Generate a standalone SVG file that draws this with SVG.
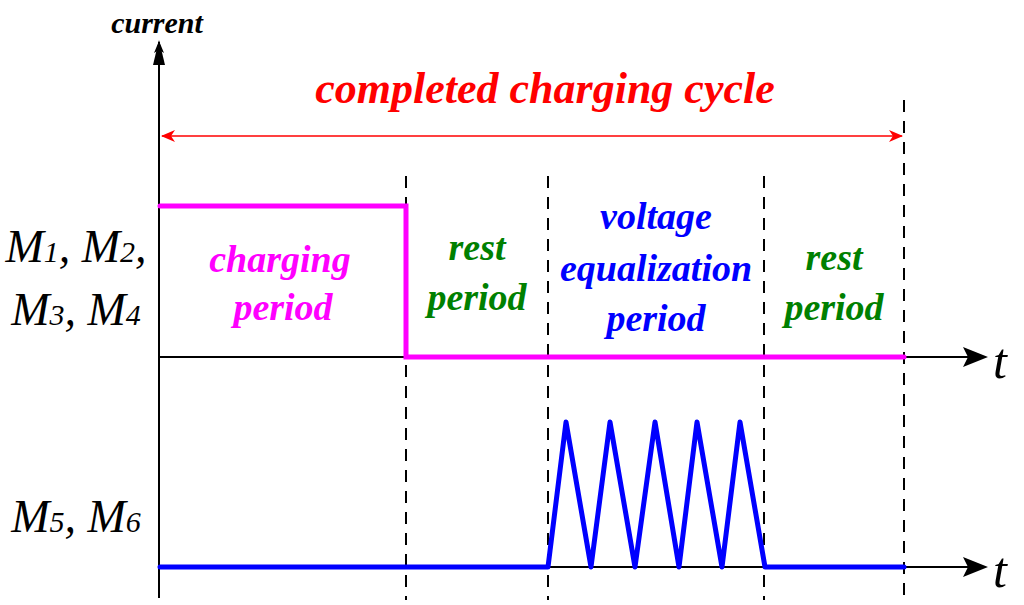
<svg xmlns="http://www.w3.org/2000/svg" width="1024" height="605" viewBox="0 0 1024 605">
<style>
text{font-family:"Liberation Serif",serif;font-style:italic}
.b{font-weight:bold}
.d{stroke:#000;stroke-width:2;stroke-dasharray:12,9;fill:none}
.ax{stroke:#000;stroke-width:2;fill:none}
</style>
<defs>
<marker id="ah" markerWidth="12" markerHeight="10" refX="11" refY="5" orient="auto" markerUnits="userSpaceOnUse" viewBox="0 0 12 10"><path d="M0,0L12,5L0,10L3,5Z" fill="#000"/></marker>
<marker id="ar" markerWidth="14" markerHeight="12" refX="13" refY="6" orient="auto-start-reverse" markerUnits="userSpaceOnUse" viewBox="0 0 14 12"><path d="M0,0L14,6L0,12L4,6Z" fill="#f00"/></marker>
</defs>
<rect width="1024" height="605" fill="#fff"/>
<g id="connectors">
<path class="ax" d="M159,598V42" marker-end="url(#ah)" style="stroke-width:2"/>
<path d="M153,65L159,40L165,65Z" fill="#000"/>
<path class="ax" d="M159,357H985"/>
<path d="M963,347L988,357L963,367L968,357Z"/>
<path class="ax" d="M159,567H985"/>
<path d="M963,557L988,567L963,577L968,567Z"/>
<path class="d" d="M406,176V600M548,176V600M764,176V600M904,100V600"/>
<path d="M162,136H902" stroke="#f00" stroke-width="1.5" marker-start="url(#ar)" marker-end="url(#ar)"/>
<path d="M160,206H406V357H904" stroke="#f0f" stroke-width="5" fill="none" stroke-linecap="round"/>
<path d="M160,567H548L566,422L591,567L610,422L635,567L655,422L679,567L697,422L722,567L740,422L765,567H904" stroke="#00f" stroke-width="5" fill="none" stroke-linejoin="round" stroke-linecap="round"/>
</g>
<g id="labels">
<text x="157" y="33" class="b" font-size="30" text-anchor="middle">current</text>
<text x="545" y="103" class="b" font-size="44" fill="#f00" text-anchor="middle">completed charging cycle</text>
<text x="76" y="262" font-size="46" text-anchor="middle">M<tspan font-size="30">1</tspan>, M<tspan font-size="30">2</tspan>,</text>
<text x="76" y="325" font-size="46" text-anchor="middle">M<tspan font-size="30">3</tspan>, M<tspan font-size="30">4</tspan></text>
<text x="76" y="532" font-size="46" text-anchor="middle">M<tspan font-size="30">5</tspan>, M<tspan font-size="30">6</tspan></text>
<text x="280" y="272" class="b" font-size="38" fill="#f0f" text-anchor="middle">charging</text>
<text x="283" y="320" class="b" font-size="38" fill="#f0f" text-anchor="middle">period</text>
<text x="477" y="260" class="b" font-size="38" fill="#008000" text-anchor="middle">rest</text>
<text x="477" y="310" class="b" font-size="38" fill="#008000" text-anchor="middle">period</text>
<text x="656" y="229" class="b" font-size="38" fill="#00f" text-anchor="middle">voltage</text>
<text x="656" y="281" class="b" font-size="38" fill="#00f" text-anchor="middle">equalization</text>
<text x="656" y="331" class="b" font-size="38" fill="#00f" text-anchor="middle">period</text>
<text x="834" y="270" class="b" font-size="38" fill="#008000" text-anchor="middle">rest</text>
<text x="834" y="320" class="b" font-size="38" fill="#008000" text-anchor="middle">period</text>
<text x="1000" y="378" font-size="50" text-anchor="middle">t</text>
<text x="1000" y="587" font-size="50" text-anchor="middle">t</text>
</g>
</svg>
